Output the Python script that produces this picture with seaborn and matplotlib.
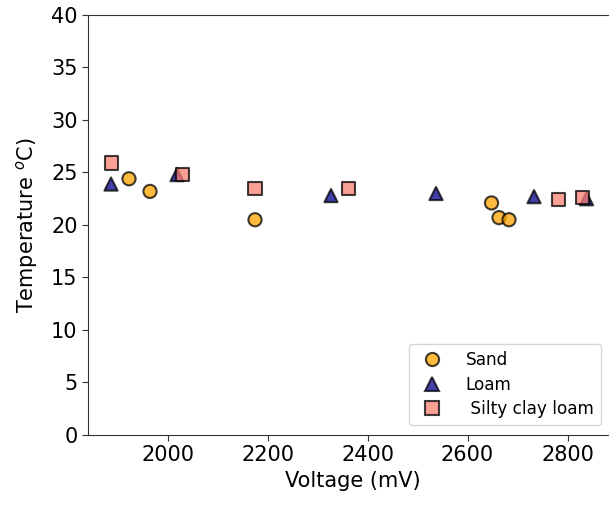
import pandas as pd
import matplotlib
matplotlib.use("Agg")
import matplotlib.pyplot as plt
import seaborn as sb

# readings per soil type #
sand_mv = [1923, 1965, 2175, 2648, 2663, 2683]
sand_temp = [24.4, 23.2, 20.5, 22.1, 20.7, 20.5]

loam_mv = [1887, 2019, 2327, 2537, 2733, 2838]
loam_temp = [23.9, 24.8, 22.8, 23.0, 22.7, 22.5]

scl_mv = [1888, 2030, 2175, 2362, 2782, 2830]
scl_temp = [25.9, 24.8, 23.5, 23.5, 22.4, 22.6]

soil_names = ["Sand", "Loam", " Silty clay loam"]
soil_colors = ["orange", "darkblue", "salmon"]
soil_markers = ["o", "^", "s"]

df = pd.concat([
    pd.DataFrame({"voltage": sand_mv, "temp": sand_temp, "soil": soil_names[0]}),
    pd.DataFrame({"voltage": loam_mv, "temp": loam_temp, "soil": soil_names[1]}),
    pd.DataFrame({"voltage": scl_mv, "temp": scl_temp, "soil": soil_names[2]}),
], ignore_index=True)

fig = plt.figure(figsize=(6.09, 5.08), dpi=100)
ax = fig.add_axes([0.1445, 0.1437, 0.8695, 0.8268])

sb.scatterplot(data=df, x="voltage", y="temp", hue="soil", style="soil",
               palette=dict(zip(soil_names, soil_colors)),
               markers=dict(zip(soil_names, soil_markers)),
               s=90, edgecolor="black", linewidth=1.5, alpha=0.75, ax=ax)

ax.set_xlim(1841, 2900)
ax.set_ylim(0, 40)
ax.set_xticks([2000, 2200, 2400, 2600, 2800])
ax.set_yticks(range(0, 41, 5))
ax.tick_params(labelsize=15, length=4, color="#333333")
ax.set_xlabel("Voltage (mV)", fontsize=15)
ax.set_ylabel("Temperature $^{o}$C)", fontsize=15, labelpad=8)
for sp in ax.spines.values():
    sp.set_color("#333333")

ax.legend(loc="lower right", bbox_to_anchor=(0.969, 0.024), borderaxespad=0,
          fontsize=12.2, handletextpad=0.95, markerscale=1.0, labelspacing=0.38,
          frameon=True)

plt.savefig("out.png", dpi=100)
